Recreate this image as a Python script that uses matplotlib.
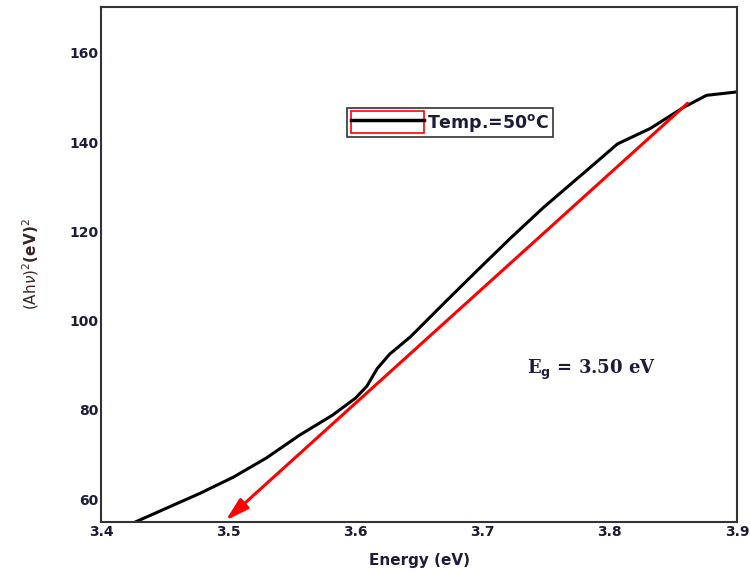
import matplotlib
matplotlib.use('Agg')
import matplotlib.pyplot as plt
from matplotlib.patches import Patch
from matplotlib.lines import Line2D
from matplotlib.legend_handler import HandlerTuple

# data
energy = [3.425, 3.478, 3.504, 3.530, 3.556, 3.582, 3.600, 3.609, 3.617, 3.627,
          3.643, 3.670, 3.696, 3.722, 3.748, 3.782, 3.806, 3.832, 3.858, 3.876, 3.898, 3.90]
ahv2 = [54.6, 61.3, 64.9, 69.2, 74.3, 78.8, 82.6, 85.3, 89.2, 92.5,
        96.3, 104.0, 111.3, 118.5, 125.4, 133.7, 139.6, 143.1, 147.8, 150.5, 151.2, 151.3]
fit_start = (3.861, 148.7)
fit_end = (3.498, 55.2)

txt = '#1c1c3a'

fig = plt.figure(figsize=(7.5, 5.78), dpi=100)
ax = fig.add_axes([0.1347, 0.0969, 0.848, 0.891])

ax.plot(energy, ahv2, color='black', lw=2.2)
ax.annotate('', xy=fit_end, xytext=fit_start,
            arrowprops=dict(arrowstyle='-|>,head_width=0.2,head_length=0.7', color='red', lw=2.2,
                            mutation_scale=20, shrinkA=0, shrinkB=0))

ax.set_xlim(3.4, 3.9)
ax.set_ylim(54.85, 170.3)
ax.set_xticks([3.4, 3.5, 3.6, 3.7, 3.8, 3.9])
ax.set_yticks([60, 80, 100, 120, 140, 160])
ax.tick_params(length=0, pad=2, labelsize=10, colors=txt)
for lab in ax.get_xticklabels() + ax.get_yticklabels():
    lab.set_fontweight('bold')
for s in ax.spines.values():
    s.set_linewidth(1.5)
    s.set_color('#333333')

ax.set_xlabel('Energy (eV)', fontsize=11, fontweight='bold', color=txt, labelpad=10)
ax.set_ylabel(r'$(\mathrm{Ah}\nu)^2$(eV)$^2$', fontsize=11, fontweight='bold',
              color='#3a2323', labelpad=20)

ax.text(3.735, 89, r'E$_{\mathbf{g}}$ = 3.50 eV', fontsize=13, fontweight='bold',
        family='DejaVu Serif', color=txt, va='center')

h = (Patch(facecolor='none', edgecolor='red', lw=1.2),
     Line2D([], [], color='black', lw=2.5))
leg = ax.legend([h], [r'Temp.=50$^{\mathbf{o}}$C'], handler_map={tuple: HandlerTuple(ndivide=1)},
                loc='upper left', bbox_to_anchor=(0.387, 0.804), frameon=True, fancybox=False,
                handlelength=4.2, handleheight=1.5, borderpad=0.2, handletextpad=0.2,
                borderaxespad=0, prop={'weight': 'bold', 'size': 12.5})
leg.get_frame().set_edgecolor('black')
leg.get_frame().set_linewidth(1.2)
for t in leg.get_texts():
    t.set_color(txt)

fig.savefig('out.png', dpi=100)
